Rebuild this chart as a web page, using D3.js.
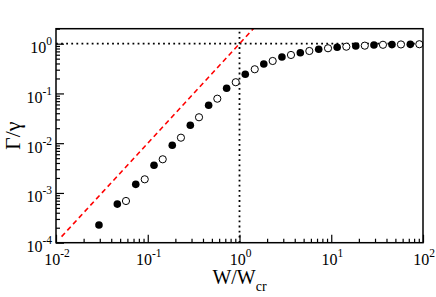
<!DOCTYPE html>
<html>
<head>
<meta charset="utf-8">
<script src="https://cdn.jsdelivr.net/npm/d3@7"></script>
<style>
  body { margin: 0; background: #fff; }
  svg { display: block; font-family: "Liberation Serif", "DejaVu Serif", serif; }
</style>
</head>
<body>
<svg id="chart" width="436" height="297"></svg>
<script>
// filled circles
var filledX = [0.0294, 0.0466, 0.0740, 0.117, 0.185, 0.291, 0.461, 0.724, 1.156,
               1.84, 2.90, 4.60, 7.30, 11.6, 18.5, 29.2, 45.9, 72.7];
var filledY = [2.27e-4, 5.97e-4, 1.49e-3, 3.6e-3, 9.08e-3, 0.0229, 0.0578, 0.127, 0.243,
               0.391, 0.540, 0.659, 0.771, 0.847, 0.899, 0.942, 0.958, 0.970];
// open circles
var openX = [0.0579, 0.0927, 0.1456, 0.230, 0.362, 0.573, 0.910,
             1.466, 2.30, 3.64, 5.77, 9.22, 14.6, 23.2, 36.6, 57.5, 91.2];
var openY = [6.89e-4, 1.88e-3, 4.75e-3, 0.0129, 0.0332, 0.0784, 0.168,
             0.306, 0.449, 0.593, 0.713, 0.809, 0.870, 0.912, 0.950, 0.965, 0.975];
// red dashed reference line y = x^2
var lineX = [0.0115, 1.5];
var xTicks = [1e-2, 1e-1, 1, 10, 100];
var yTicks = [1e-4, 1e-3, 1e-2, 1e-1, 1];

var svg = d3.select("#chart");
var mLeft = 56, mRight = 423, mTop = 28.7, mBottom = 242.7;

var x = d3.scaleLog().domain([1e-2, 100]).range([mLeft, mRight]);
var y = d3.scaleLog().domain([1e-4, 2]).range([mBottom, mTop]);

svg.append("clipPath").attr("id", "clip")
  .append("rect").attr("x", mLeft).attr("y", mTop).attr("width", mRight - mLeft).attr("height", mBottom - mTop);

var plot = svg.append("g").attr("clip-path", "url(#clip)");

// dotted guides at x=1 and y=1
plot.append("line")
  .attr("x1", x(1e-2)).attr("x2", x(100)).attr("y1", y(1)).attr("y2", y(1))
  .style("stroke", "#000").style("stroke-width", 1.8).style("stroke-dasharray", "1.8,3.3");
plot.append("line")
  .attr("x1", x(1)).attr("x2", x(1)).attr("y1", y(1e-4)).attr("y2", y(2))
  .style("stroke", "#000").style("stroke-width", 1.8).style("stroke-dasharray", "1.8,3.3");

var line = d3.line().x(function (d) { return x(d); }).y(function (d) { return y(d * d); });
plot.append("path")
  .datum(lineX)
  .attr("d", line)
  .style("fill", "none").style("stroke", "#ff0000").style("stroke-width", 1.6)
  .style("stroke-dasharray", "5,3.5");

var filledPts = filledX.map(function (v, i) { return [v, filledY[i]]; });
var openPts = openX.map(function (v, i) { return [v, openY[i]]; });

plot.selectAll(".dotf").data(filledPts).enter().append("circle")
  .attr("cx", function (d) { return x(d[0]); })
  .attr("cy", function (d) { return y(d[1]); })
  .attr("r", 3.8)
  .style("fill", "#000");

plot.selectAll(".doto").data(openPts).enter().append("circle")
  .attr("cx", function (d) { return x(d[0]); })
  .attr("cy", function (d) { return y(d[1]); })
  .attr("r", 3.6)
  .style("fill", "#fff").style("stroke", "#000").style("stroke-width", 1);

// minor tick values
var minorX = [], minorY = [];
[1e-2, 1e-1, 1, 10].forEach(function (d) { for (var k = 2; k < 10; k++) minorX.push(d * k); });
[1e-4, 1e-3, 1e-2, 1e-1, 1].forEach(function (d) { for (var k = 2; k < 10; k++) if (d * k <= 2) minorY.push(d * k); });

var xMinor = svg.append("g").attr("transform", "translate(0," + mBottom + ")")
  .call(d3.axisBottom(x).tickValues(minorX).tickSize(-4).tickFormat(""));
var yMinor = svg.append("g").attr("transform", "translate(" + mLeft + ",0)")
  .call(d3.axisLeft(y).tickValues(minorY).tickSize(-4).tickFormat(""));
var xMajor = svg.append("g").attr("transform", "translate(0," + mBottom + ")")
  .call(d3.axisBottom(x).tickValues(xTicks).tickSize(-8).tickFormat(""));
var yMajor = svg.append("g").attr("transform", "translate(" + mLeft + ",0)")
  .call(d3.axisLeft(y).tickValues(yTicks).tickSize(-8).tickFormat(""));

[xMinor, yMinor, xMajor, yMajor].forEach(function (g) {
  g.select(".domain").remove();
  g.selectAll("line").style("stroke", "#000").style("stroke-width", 1.2);
  g.selectAll("text").remove();
});

function expLabel(sel, v) {
  sel.append("tspan").text("10");
  sel.append("tspan").attr("dy", -8).style("font-size", "11.5px").text(Math.round(Math.log10(v)));
}

xTicks.forEach(function (v) {
  var t = svg.append("text")
    .attr("x", x(v) + 1).attr("y", mBottom + 22.5)
    .attr("text-anchor", "middle")
    .style("font-size", "16px").style("fill", "#000");
  expLabel(t, v);
});
yTicks.forEach(function (v) {
  var t = svg.append("text")
    .attr("x", mLeft - 4).attr("y", y(v) + 9.5)
    .attr("text-anchor", "end")
    .style("font-size", "16px").style("fill", "#000");
  expLabel(t, v);
});

// frame
svg.append("rect")
  .attr("x", mLeft).attr("y", mTop).attr("width", mRight - mLeft).attr("height", mBottom - mTop)
  .style("fill", "none").style("stroke", "#000").style("stroke-width", 1.5);

// axis titles
var xt = svg.append("text")
  .attr("x", (mLeft + mRight) / 2).attr("y", 284)
  .attr("text-anchor", "middle")
  .style("font-size", "20px").style("fill", "#000");
xt.append("tspan").text("W/W");
xt.append("tspan").attr("dy", 7).style("font-size", "14px").text("cr");

svg.append("text")
  .attr("transform", "translate(20," + ((mTop + mBottom) / 2) + ") rotate(-90)")
  .attr("text-anchor", "middle")
  .style("font-size", "22px").style("fill", "#000")
  .text("Γ/γ");
</script>
</body>
</html>
